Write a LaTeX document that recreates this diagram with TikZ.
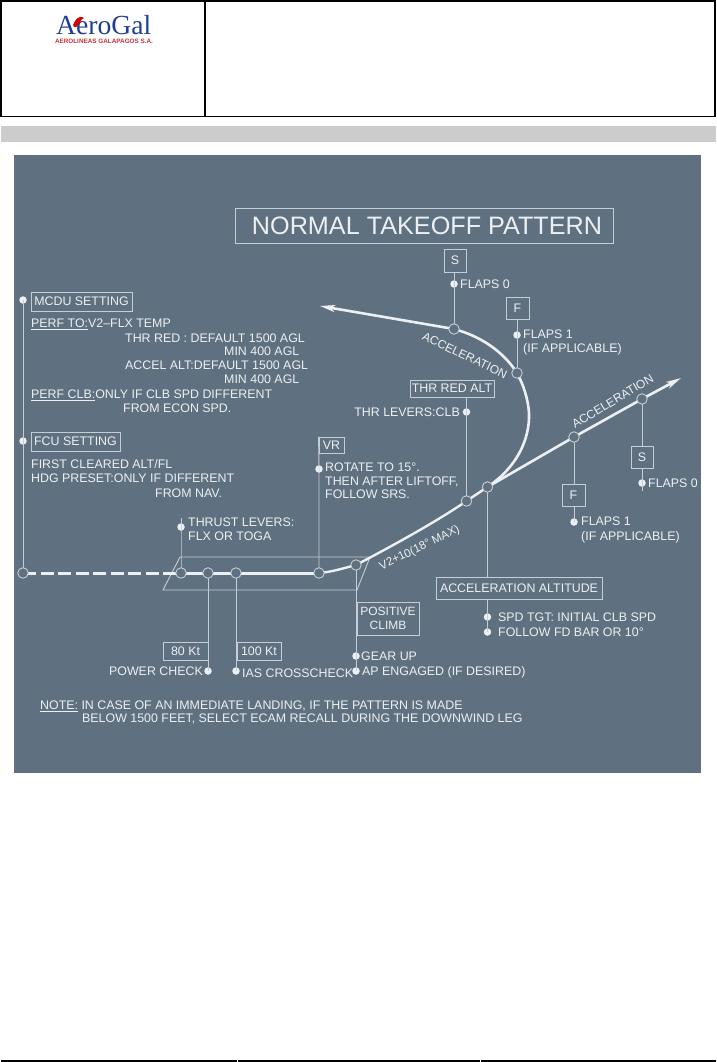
\documentclass[tikz,border=0pt]{standalone}
\usepackage{fontspec}
\setmainfont{Liberation Sans}
\newfontfamily\logoserif{Liberation Serif}
\usetikzlibrary{arrows.meta}
\definecolor{panelbg}{HTML}{5F7080}
\definecolor{inkw}{HTML}{EDF0F2}
\definecolor{linew}{HTML}{C6CED5}
\definecolor{barg}{HTML}{CCCCCC}
\definecolor{logoblue}{HTML}{1F3E94}
\definecolor{logored}{HTML}{C4323A}
\tikzset{
  lbl/.style={anchor=west,inner sep=0pt,text=inkw,font=\fontsize{12.4}{14}\selectfont,text height=8.9pt,text depth=0pt},
  lble/.style={lbl,anchor=east},
  lblc/.style={lbl,anchor=center},
  tag/.style={draw=linew,line width=0.9pt,inner sep=0pt,text=inkw,font=\fontsize{12.4}{14}\selectfont,anchor=center},
  leader/.style={draw=linew,line width=0.9pt},
  ring/.style={circle,draw=linew,line width=0.9pt,fill=panelbg,minimum size=10.5pt,inner sep=0pt},
  bullet/.style={circle,fill=inkw,minimum size=7.5pt,inner sep=0pt},
  junction/.style={inner sep=0pt,minimum size=0pt},
  track/.style={draw=inkw,line width=2.6pt},
  arrowtip/.style={-{Stealth[length=15pt,width=7pt,inset=4pt]}},
}
\newcommand{\tagbox}[6]{\node[tag,minimum width=#4pt,minimum height=#5pt] (#1) at (#2,#3) {#6};}
\begin{document}
\begin{tikzpicture}[x=1pt,y=-1pt]
\useasboundingbox (0,0) rectangle (716,1062);
% header
\fill[white] (0,0) rectangle (716,1062);
\draw[black,line width=1.8pt] (1,1) rectangle (715,116.5);
\draw[black,line width=1.8pt] (205,1) -- (205,116.5);
\fill[barg] (1,126) rectangle (716,142);
\node[inner sep=0pt,anchor=base west,text=logoblue,font=\logoserif\fontsize{27.6}{27}\selectfont] (logo) at (56,35) {AeroGal};
\fill[red!85!black] (75,21) .. controls (77,17) and (82,16) .. (84,18) .. controls (81,19) and (80,23) .. (78,25) .. controls (76,28) and (74,28) .. (73,25) -- cycle;
\node[inner sep=0pt,anchor=center,text=logored,font=\bfseries\fontsize{6.35}{7}\selectfont] (logosub) at (104,41) {AEROLINEAS GALAPAGOS S.A.};
% panel
\fill[panelbg] (14,155) rectangle (701,773);
% title
\node[draw=linew,line width=1pt,minimum width=378pt,minimum height=35pt,inner sep=0pt,text=inkw,font=\fontsize{25.2}{26}\selectfont] (title) at (424,225.5) {\hspace*{6pt}NORMAL TAKEOFF PATTERN};
% runway
\coordinate (rwA) at (180,557); \coordinate (rwB) at (370,557);
\coordinate (rwC) at (357,590); \coordinate (rwD) at (163,590);
\draw[leader] (rwA) -- (rwB) -- (rwC) -- (rwD) -- cycle;
% anchors on the track
\node[junction] (start) at (23,573) {};
\node[junction] (brake) at (181,573) {};
\node[junction] (kt80) at (208,573) {};
\node[junction] (kt100) at (236,573) {};
\node[junction] (vr) at (319,573) {};
\node[junction] (pos) at (356,565) {};
\node[junction] (thr) at (466.5,501) {};
\node[junction] (acc) at (487.5,487) {};
\node[junction] (f2) at (574,437) {};
\node[junction] (s2) at (642,399) {};
\node[junction] (f1) at (517,373) {};
\node[junction] (s1) at (454,329) {};
\coordinate (tipR) at (681,378);
\coordinate (tipL) at (320,306);
% bullets
\node[bullet] (dMcdu) at (23,300) {};
\node[bullet] (dFcu) at (23,441) {};
\node[bullet] (dThrust) at (181,527) {};
\coordinate (topThrust) at (181,518);
\node[bullet] (dVr) at (319,469) {};
\node[bullet] (dPower) at (208,671) {};
\node[bullet] (dIas) at (236,671) {};
\node[bullet] (dGear) at (356,656) {};
\node[bullet] (dAp) at (356,671) {};
\node[bullet] (dThr) at (466.5,412) {};
\node[bullet] (dSpd) at (487.5,617) {};
\node[bullet] (dFd) at (487.5,632) {};
\node[bullet] (dS1) at (454,284) {};
\node[bullet] (dF1) at (517,335) {};
\node[bullet] (dS2) at (642,483) {};
\coordinate (endS2) at (642,491);
\node[bullet] (dF2) at (574,522) {};
% boxes
\tagbox{bMcdu}{81.5}{301.5}{101}{19}{MCDU SETTING}
\tagbox{bFcu}{75.5}{441.5}{89}{19}{FCU SETTING}
\tagbox{bVr}{331.5}{445}{25}{16}{VR}
\tagbox{b80}{185.5}{651}{45}{18}{80 Kt}
\tagbox{b100}{259}{651}{44}{18}{100 Kt}
\tagbox{bThr}{452}{388.5}{84}{17}{THR RED ALT}
\tagbox{bS1}{455}{260.5}{22}{23}{S}
\tagbox{bF1}{517.5}{308}{23}{22}{F}
\tagbox{bS2}{642}{457}{22}{22}{S}
\tagbox{bF2}{573.5}{495}{23}{22}{F}
\tagbox{bAcc}{519}{588}{166}{22}{ACCELERATION ALTITUDE}
\node[tag,minimum width=62pt,minimum height=33pt,align=center,font=\fontsize{12}{14}\selectfont] (bPos) at (388,618.5) {POSITIVE\\CLIMB};
% leaders
\draw[leader] (dMcdu.center) -- (start.center);
\draw[leader] (brake.center) -- (dThrust.center) -- (topThrust);
\draw[leader] (kt80.center) -- (dPower.center);
\draw[leader] (kt100.center) -- (dIas.center);
\draw[leader] (vr.center) -- (dVr.center) -- (bVr.north west);
\draw[leader] (pos.center) -- (dAp.center);
\draw[leader] (thr.center) -- (dThr.center) -- (bThr.south -| dThr);
\draw[leader] (acc.center |- bAcc.north) -- (acc.center);
\draw[leader] (dFd.center) -- (bAcc.south -| dFd);
\draw[leader] (s1.center) -- (bS1.south -| s1);
\draw[leader] (f1.center) -- (bF1.south -| f1);
\draw[leader] (s2.center) -- (bS2.north -| s2);
\draw[leader] (bS2.south -| s2) -- (endS2);
\draw[leader] (f2.center) -- (bF2.north -| f2);
\draw[leader] (bF2.south -| f2) -- (dF2.center);
% tracks
\draw[track,line width=3pt,dash pattern=on 13pt off 4.5pt] (start.center) -- (brake.center);
\draw[track,line width=3pt] (brake.center) -- (vr.center);
\draw[track,line width=2.4pt] (vr.center) .. controls (332,572) and (344,568) .. (pos.center)
   .. controls (392,546) and (436,522) .. (thr.center) -- (acc.center);
\draw[track,arrowtip] (acc.center) -- (f2.center) -- (s2.center) -- (tipR);
\draw[track,arrowtip] (acc.center) .. controls (516,468) and (530,440) .. (529,413)
   .. controls (528,398) and (523,384) .. (f1.center)
   .. controls (503,351) and (480,336) .. (s1.center) -- (tipL);
% rings
\foreach \n in {start,brake,kt80,kt100,vr,pos,thr,acc,f2,s2,f1,s1}
  \node[ring] at (\n) {};
% left texts
\node[lbl] (t1) at (31,323) {\underline{PERF TO:}V2–FLX TEMP};
\node[lbl] (t2) at (125,338) {THR RED : DEFAULT 1500 AGL};
\node[lbl] (t3) at (224,351) {MIN 400 AGL};
\node[lbl] (t4) at (125,365) {ACCEL ALT:DEFAULT 1500 AGL};
\node[lbl] (t5) at (224,379) {MIN 400 AGL};
\node[lbl] (t6) at (31,394) {\underline{PERF CLB:}ONLY IF CLB SPD DIFFERENT};
\node[lbl] (t7) at (123,408) {FROM ECON SPD.};
\node[lbl] (t8) at (31,464) {FIRST CLEARED ALT/FL};
\node[lbl] (t9) at (31,478) {HDG PRESET:ONLY IF DIFFERENT};
\node[lbl] (t10) at (155,493) {FROM NAV.};
\node[lbl] (t11) at (188,522) {THRUST LEVERS:};
\node[lbl] (t12) at (188,536) {FLX OR TOGA};
\node[lbl] (t13) at (325,467) {ROTATE TO 15°.};
\node[lbl] (t14) at (325,481) {THEN AFTER LIFTOFF,};
\node[lbl] (t15) at (325,494) {FOLLOW SRS.};
\node[lble] (t16) at (203,671) {POWER CHECK};
\node[lbl] (t17) at (242,673) {IAS CROSSCHECK};
\node[lbl] (t18) at (361,656) {GEAR UP};
\node[lbl] (t19) at (362,671) {AP ENGAGED (IF DESIRED)};
\node[lbl] (t20) at (498,617) {SPD TGT: INITIAL CLB SPD};
\node[lbl] (t21) at (498,632) {FOLLOW FD BAR OR 10°};
\node[lble] (t22) at (460,412) {THR LEVERS:CLB};
\node[lbl] (t23) at (460,284) {FLAPS 0};
\node[lbl] (t24) at (523,334) {FLAPS 1};
\node[lbl] (t25) at (523,348) {(IF APPLICABLE)};
\node[lbl] (t26) at (648,483) {FLAPS 0};
\node[lbl] (t27) at (581,521) {FLAPS 1};
\node[lbl] (t28) at (581,536) {(IF APPLICABLE)};
\node[lbl] (t29) at (40,705) {\underline{NOTE:} IN CASE OF AN IMMEDIATE LANDING, IF THE PATTERN IS MADE};
\node[lbl] (t30) at (82,718) {BELOW 1500 FEET, SELECT ECAM RECALL DURING THE DOWNWIND LEG};
% rotated
\node[lblc,rotate=-25.5,font=\fontsize{12}{14}\selectfont] (r1) at (465,355) {ACCELERATION};
\node[lblc,rotate=31,font=\fontsize{12}{14}\selectfont] (r2) at (612.5,401) {ACCELERATION};
\node[lblc,rotate=26,font=\fontsize{11.6}{12}\selectfont] (r3) at (419,547) {V2+10(18° MAX)};
% footer
\fill[black] (1,1060) rectangle (236.5,1062);
\fill[black] (237.5,1060) rectangle (479.5,1062);
\fill[black] (480.5,1060) rectangle (716,1062);
\end{tikzpicture}
\end{document}
